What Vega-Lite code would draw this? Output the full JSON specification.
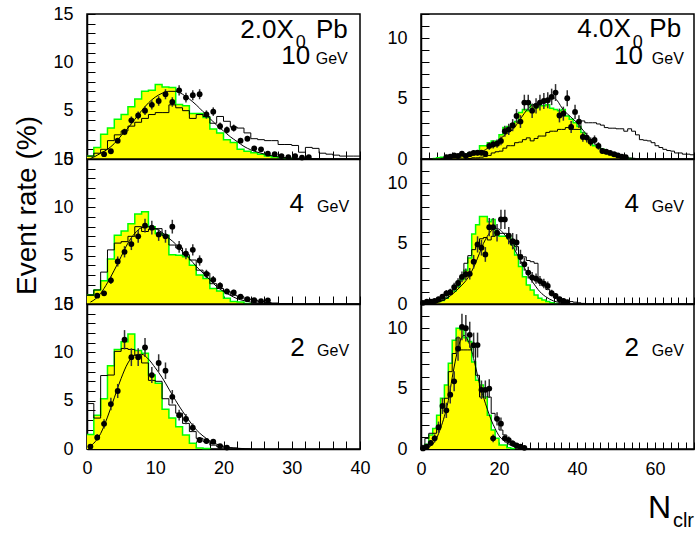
{
"$schema":"https://vega.github.io/schema/vega-lite/v6.json",
"background":"white",
"padding":{"left":12,"top":4,"right":0,"bottom":0},
"columns":2,
"spacing":{"row":0,"column":61},
"bounds":"flush",
"datasets":{
"TLa":[{"x":0,"y":0.3},{"x":1,"y":1.2},{"x":2,"y":2.55},{"x":3,"y":3.2},{"x":4,"y":4.1},{"x":5,"y":4.6},{"x":6,"y":5.4},{"x":7,"y":6.2},{"x":8,"y":7.0},{"x":9,"y":7.1},{"x":10,"y":7.7},{"x":11,"y":7.45},{"x":12,"y":7.4},{"x":13,"y":5.65},{"x":14,"y":5.5},{"x":15,"y":4.7},{"x":16,"y":4.7},{"x":17,"y":4.3},{"x":18,"y":3.1},{"x":19,"y":2.7},{"x":20,"y":2.0},{"x":21,"y":1.7},{"x":22,"y":1.0},{"x":23,"y":0.8},{"x":24,"y":0.65},{"x":25,"y":0.5},{"x":26,"y":0.3},{"x":27,"y":0.2},{"x":28,"y":0.1},{"x":29,"y":0.05},{"x":30,"y":0}],
"TLb":[{"x":0,"y":0.3},{"x":1,"y":0.6},{"x":2,"y":1.0},{"x":3,"y":1.9},{"x":4,"y":2.5},{"x":5,"y":2.9},{"x":6,"y":3.4},{"x":7,"y":3.8},{"x":8,"y":4.2},{"x":9,"y":4.6},{"x":10,"y":4.8},{"x":11,"y":4.8},{"x":12,"y":5.6},{"x":13,"y":5.3},{"x":14,"y":5.0},{"x":15,"y":4.2},{"x":16,"y":4.6},{"x":17,"y":4.4},{"x":18,"y":3.7},{"x":19,"y":4.4},{"x":20,"y":3.9},{"x":21,"y":3.3},{"x":22,"y":3.2},{"x":23,"y":2.7},{"x":24,"y":2.1},{"x":25,"y":2.0},{"x":26,"y":1.9},{"x":27,"y":1.9},{"x":28,"y":1.5},{"x":29,"y":1.5},{"x":30,"y":1.4},{"x":31,"y":0.7},{"x":32,"y":1.2},{"x":33,"y":1.1},{"x":34,"y":0.6},{"x":35,"y":0.5},{"x":36,"y":0.4},{"x":37,"y":0.3},{"x":38,"y":0.3},{"x":39,"y":0.3},{"x":40,"y":0.3}],
"TLf":[{"x":0.5,"y":0.05},{"x":1,"y":0.2},{"x":2,"y":0.6},{"x":3,"y":1.0},{"x":4,"y":1.6},{"x":5,"y":2.4},{"x":6,"y":3.2},{"x":7,"y":4.1},{"x":8,"y":5.0},{"x":9,"y":5.8},{"x":10,"y":6.4},{"x":11,"y":6.8},{"x":12,"y":7.0},{"x":13,"y":7.0},{"x":14,"y":6.7},{"x":15,"y":6.2},{"x":16,"y":5.6},{"x":17,"y":4.9},{"x":18,"y":4.2},{"x":19,"y":3.5},{"x":20,"y":2.9},{"x":21,"y":2.3},{"x":22,"y":1.8},{"x":23,"y":1.3},{"x":24,"y":0.95},{"x":25,"y":0.7},{"x":26,"y":0.5},{"x":27,"y":0.35},{"x":28,"y":0.22},{"x":29,"y":0.15},{"x":30,"y":0.1},{"x":32,"y":0.05},{"x":35,"y":0.02}],
"TLp":[{"x":2.5,"y":0.5,"e":0.14},{"x":3.5,"y":0.8,"e":0.18},{"x":4.5,"y":1.9,"e":0.28},{"x":5.5,"y":2.8,"e":0.33},{"x":6.5,"y":4.0,"e":0.4},{"x":7.5,"y":4.5,"e":0.42},{"x":8.5,"y":5.0,"e":0.45},{"x":9.5,"y":5.6,"e":0.47},{"x":10.5,"y":6.0,"e":0.49},{"x":11.5,"y":6.7,"e":0.52},{"x":12.5,"y":5.9,"e":0.49},{"x":13.5,"y":7.1,"e":0.53},{"x":14.5,"y":6.35,"e":0.5},{"x":15.5,"y":6.6,"e":0.51},{"x":16.5,"y":6.7,"e":0.52},{"x":17.5,"y":4.6,"e":0.43},{"x":18.5,"y":4.9,"e":0.44},{"x":19.5,"y":3.4,"e":0.37},{"x":20.5,"y":3.0,"e":0.35},{"x":21.5,"y":3.2,"e":0.36},{"x":22.5,"y":1.9,"e":0.28},{"x":23.5,"y":2.1,"e":0.29},{"x":24.5,"y":1.1,"e":0.21},{"x":25.5,"y":1.0,"e":0.2},{"x":26.5,"y":0.55,"e":0.15},{"x":27.5,"y":0.5,"e":0.14},{"x":28.5,"y":0.3,"e":0.11},{"x":29.5,"y":0.2,"e":0.09},{"x":30.5,"y":0.3,"e":0.11},{"x":31.5,"y":0.15,"e":0.08},{"x":32.5,"y":0.2,"e":0.09}],
"MLa":[{"x":0,"y":0.9},{"x":1,"y":1.45},{"x":2,"y":2.4},{"x":3,"y":4.65},{"x":4,"y":7.1},{"x":5,"y":7.55},{"x":6,"y":8.3},{"x":7,"y":9.3},{"x":8,"y":9.55},{"x":9,"y":8.0},{"x":10,"y":7.3},{"x":11,"y":7.1},{"x":12,"y":5.1},{"x":13,"y":5.05},{"x":14,"y":4.9},{"x":15,"y":4.0},{"x":16,"y":3.0},{"x":17,"y":2.65},{"x":18,"y":1.6},{"x":19,"y":1.35},{"x":20,"y":0.6},{"x":21,"y":0.25},{"x":22,"y":0.2},{"x":23,"y":0.05},{"x":24,"y":0}],
"MLb":[{"x":0,"y":0.9},{"x":1,"y":1.45},{"x":2,"y":3.3},{"x":3,"y":5.6},{"x":4,"y":6.3},{"x":5,"y":6.45},{"x":6,"y":7.0},{"x":7,"y":8.0},{"x":8,"y":7.5},{"x":9,"y":7.75},{"x":10,"y":7.8},{"x":11,"y":7.1},{"x":12,"y":6.1},{"x":13,"y":5.8},{"x":14,"y":5.1},{"x":15,"y":4.55},{"x":16,"y":3.5},{"x":17,"y":3.2},{"x":18,"y":2.1},{"x":19,"y":1.6},{"x":20,"y":1.3},{"x":21,"y":0.9},{"x":22,"y":0.75},{"x":23,"y":0.5},{"x":24,"y":0.4},{"x":25,"y":0.25},{"x":26,"y":0.15},{"x":27,"y":0.1},{"x":28,"y":0.05},{"x":29,"y":0.05},{"x":30,"y":0}],
"MLf":[{"x":0.5,"y":0.2},{"x":1,"y":0.4},{"x":2,"y":1.1},{"x":3,"y":2.2},{"x":4,"y":3.5},{"x":5,"y":4.9},{"x":6,"y":6.3},{"x":7,"y":7.3},{"x":8,"y":7.9},{"x":9,"y":8.0},{"x":10,"y":7.8},{"x":11,"y":7.4},{"x":12,"y":6.8},{"x":13,"y":6.2},{"x":14,"y":5.4},{"x":15,"y":4.7},{"x":16,"y":3.9},{"x":17,"y":3.2},{"x":18,"y":2.5},{"x":19,"y":1.8},{"x":20,"y":1.3},{"x":21,"y":0.9},{"x":22,"y":0.55},{"x":23,"y":0.35},{"x":24,"y":0.2},{"x":25,"y":0.12},{"x":26,"y":0.07},{"x":28,"y":0.02}],
"MLp":[{"x":1.5,"y":0.86,"e":0.23},{"x":2.5,"y":1.1,"e":0.26},{"x":3.5,"y":2.45,"e":0.39},{"x":4.5,"y":4.4,"e":0.52},{"x":5.5,"y":5.4,"e":0.58},{"x":6.5,"y":6.2,"e":0.62},{"x":7.5,"y":7.0,"e":0.66},{"x":8.5,"y":8.1,"e":0.71},{"x":9.5,"y":7.9,"e":0.7},{"x":10.5,"y":7.2,"e":0.67},{"x":11.5,"y":7.0,"e":0.66},{"x":12.5,"y":8.0,"e":0.71},{"x":13.5,"y":5.9,"e":0.61},{"x":14.5,"y":5.2,"e":0.57},{"x":15.5,"y":5.6,"e":0.59},{"x":16.5,"y":4.5,"e":0.53},{"x":17.5,"y":3.1,"e":0.44},{"x":18.5,"y":2.5,"e":0.4},{"x":19.5,"y":1.9,"e":0.34},{"x":20.5,"y":1.3,"e":0.29},{"x":21.5,"y":1.2,"e":0.27},{"x":22.5,"y":0.76,"e":0.22},{"x":23.5,"y":0.5,"e":0.18},{"x":24.5,"y":0.4,"e":0.16},{"x":25.5,"y":0.3,"e":0.14},{"x":26.5,"y":0.38,"e":0.15}],
"BLa":[{"x":0,"y":1.5},{"x":1,"y":3.5},{"x":2,"y":5.2},{"x":3,"y":8.6},{"x":4,"y":10.3},{"x":5,"y":11.1},{"x":6,"y":11.9},{"x":7,"y":10.2},{"x":8,"y":9.9},{"x":9,"y":7.65},{"x":10,"y":6.8},{"x":11,"y":4.1},{"x":12,"y":3.2},{"x":13,"y":2.3},{"x":14,"y":1.45},{"x":15,"y":0.6},{"x":16,"y":0.1},{"x":17,"y":0.05},{"x":18,"y":0}],
"BLb":[{"x":0,"y":4.7},{"x":1,"y":3.2},{"x":2,"y":7.6},{"x":3,"y":7.65},{"x":4,"y":10.1},{"x":5,"y":10.4},{"x":6,"y":10.3},{"x":7,"y":9.7},{"x":8,"y":8.9},{"x":9,"y":7.1},{"x":10,"y":7.0},{"x":11,"y":5.2},{"x":12,"y":4.55},{"x":13,"y":3.7},{"x":14,"y":2.65},{"x":15,"y":1.8},{"x":16,"y":1.1},{"x":17,"y":0.76},{"x":18,"y":0.4},{"x":19,"y":0.24},{"x":20,"y":0.15},{"x":21,"y":0.1},{"x":22,"y":0.05},{"x":23,"y":0}],
"BLf":[{"x":0.5,"y":0.3},{"x":1,"y":0.6},{"x":2,"y":1.6},{"x":3,"y":3.3},{"x":4,"y":5.3},{"x":5,"y":7.3},{"x":6,"y":8.9},{"x":7,"y":9.7},{"x":8,"y":9.8},{"x":9,"y":9.3},{"x":10,"y":8.4},{"x":11,"y":7.4},{"x":12,"y":6.2},{"x":13,"y":5.0},{"x":14,"y":3.9},{"x":15,"y":2.9},{"x":16,"y":2.0},{"x":17,"y":1.35},{"x":18,"y":0.85},{"x":19,"y":0.5},{"x":20,"y":0.3},{"x":21,"y":0.15},{"x":22,"y":0.08},{"x":24,"y":0.02}],
"BLp":[{"x":0.5,"y":0.25,"e":0.15},{"x":1.5,"y":1.2,"e":0.33},{"x":2.5,"y":2.6,"e":0.48},{"x":3.5,"y":4.65,"e":0.65},{"x":4.5,"y":6.0,"e":0.73},{"x":5.5,"y":11.3,"e":1.0},{"x":6.5,"y":9.5,"e":0.92},{"x":7.5,"y":9.5,"e":0.92},{"x":8.5,"y":10.5,"e":0.97},{"x":9.5,"y":7.65,"e":0.83},{"x":10.5,"y":8.9,"e":0.9},{"x":11.5,"y":8.1,"e":0.85},{"x":12.5,"y":5.4,"e":0.7},{"x":13.5,"y":3.5,"e":0.56},{"x":14.5,"y":3.1,"e":0.53},{"x":15.5,"y":2.2,"e":0.44},{"x":16.5,"y":0.93,"e":0.29},{"x":17.5,"y":0.83,"e":0.27},{"x":18.5,"y":0.76,"e":0.26},{"x":19.5,"y":0.3,"e":0.16},{"x":20.5,"y":0.15,"e":0.12}],
"TRa":[{"x":3,"y":0.05},{"x":4,"y":0.1},{"x":5,"y":0.15},{"x":6,"y":0.15},{"x":7,"y":0.2},{"x":8,"y":0.25},{"x":9,"y":0.3},{"x":10,"y":0.3},{"x":11,"y":0.4},{"x":12,"y":0.5},{"x":13,"y":0.55},{"x":14,"y":0.65},{"x":15,"y":1.1},{"x":16,"y":1.1},{"x":17,"y":1.35},{"x":18,"y":1.5},{"x":19,"y":1.5},{"x":20,"y":2.0},{"x":21,"y":2.6},{"x":22,"y":2.7},{"x":23,"y":2.9},{"x":24,"y":3.1},{"x":25,"y":3.85},{"x":26,"y":4.1},{"x":27,"y":4.0},{"x":28,"y":4.5},{"x":29,"y":4.25},{"x":30,"y":4.4},{"x":31,"y":4.4},{"x":32,"y":4.5},{"x":33,"y":4.2},{"x":34,"y":4.1},{"x":35,"y":4.0},{"x":36,"y":4.1},{"x":37,"y":3.55},{"x":38,"y":3.3},{"x":39,"y":3.0},{"x":40,"y":2.7},{"x":41,"y":2.2},{"x":42,"y":1.8},{"x":43,"y":1.5},{"x":44,"y":1.1},{"x":45,"y":1.0},{"x":46,"y":0.8},{"x":47,"y":0.5},{"x":48,"y":0.4},{"x":49,"y":0.3},{"x":50,"y":0.25},{"x":51,"y":0.15},{"x":52,"y":0.1},{"x":53,"y":0.05},{"x":54,"y":0}],
"TRb":[{"x":12,"y":0.05},{"x":13,"y":0.1},{"x":14,"y":0.1},{"x":15,"y":0.15},{"x":16,"y":0.2},{"x":17,"y":0.3},{"x":18,"y":0.5},{"x":19,"y":0.6},{"x":20,"y":0.65},{"x":21,"y":0.9},{"x":22,"y":1.1},{"x":23,"y":1.1},{"x":24,"y":1.35},{"x":25,"y":1.4},{"x":26,"y":1.6},{"x":27,"y":1.75},{"x":28,"y":1.5},{"x":29,"y":1.7},{"x":30,"y":1.9},{"x":31,"y":1.9},{"x":32,"y":2.2},{"x":33,"y":2.3},{"x":34,"y":2.3},{"x":35,"y":2.45},{"x":36,"y":2.45},{"x":37,"y":2.6},{"x":38,"y":2.45},{"x":39,"y":2.45},{"x":40,"y":2.45},{"x":41,"y":3.15},{"x":42,"y":3.0},{"x":43,"y":3.0},{"x":44,"y":3.0},{"x":45,"y":2.9},{"x":46,"y":2.8},{"x":47,"y":2.6},{"x":48,"y":2.55},{"x":49,"y":2.55},{"x":50,"y":2.5},{"x":51,"y":2.5},{"x":52,"y":2.3},{"x":53,"y":2.5},{"x":54,"y":2.3},{"x":55,"y":2.0},{"x":56,"y":1.6},{"x":57,"y":1.55},{"x":58,"y":1.5},{"x":59,"y":1.35},{"x":60,"y":1.1},{"x":61,"y":0.95},{"x":62,"y":0.8},{"x":63,"y":0.7},{"x":64,"y":0.65},{"x":65,"y":0.5},{"x":66,"y":0.5},{"x":67,"y":0.4},{"x":68,"y":0.4},{"x":69,"y":0.35},{"x":70,"y":0.35}],
"TRf":[{"x":5,"y":0.05},{"x":8,"y":0.1},{"x":10,"y":0.15},{"x":12,"y":0.25},{"x":15,"y":0.5},{"x":18,"y":1.1},{"x":20,"y":1.6},{"x":22,"y":2.1},{"x":24,"y":2.6},{"x":25,"y":3.1},{"x":26,"y":3.55},{"x":27,"y":4.0},{"x":28,"y":4.35},{"x":30,"y":4.65},{"x":32,"y":4.85},{"x":34,"y":5.05},{"x":35,"y":4.8},{"x":36,"y":4.3},{"x":37,"y":3.9},{"x":38,"y":3.6},{"x":39,"y":3.3},{"x":40,"y":3.0},{"x":41,"y":2.6},{"x":42,"y":2.2},{"x":43,"y":1.8},{"x":44,"y":1.45},{"x":45,"y":1.15},{"x":46,"y":0.9},{"x":47,"y":0.7},{"x":48,"y":0.5},{"x":50,"y":0.3},{"x":52,"y":0.15},{"x":55,"y":0.05}],
"TRp":[{"x":6.5,"y":0.15,"e":0.12},{"x":7.5,"y":0.2,"e":0.13},{"x":8.5,"y":0.3,"e":0.16},{"x":9.5,"y":0.25,"e":0.15},{"x":10.5,"y":0.45,"e":0.2},{"x":11.5,"y":0.25,"e":0.15},{"x":12.5,"y":0.4,"e":0.19},{"x":13.5,"y":0.5,"e":0.21},{"x":14.5,"y":0.52,"e":0.22},{"x":15.5,"y":0.52,"e":0.22},{"x":16.5,"y":0.45,"e":0.2},{"x":17.5,"y":1.08,"e":0.31},{"x":18.5,"y":1.2,"e":0.33},{"x":19.5,"y":1.27,"e":0.34},{"x":20.5,"y":1.5,"e":0.37},{"x":21.5,"y":2.3,"e":0.45},{"x":22.5,"y":2.45,"e":0.47},{"x":23.5,"y":2.8,"e":0.5},{"x":24.5,"y":3.56,"e":0.57},{"x":25.5,"y":3.1,"e":0.53},{"x":26.5,"y":4.67,"e":0.65},{"x":27.5,"y":4.67,"e":0.65},{"x":28.5,"y":4.0,"e":0.6},{"x":29.5,"y":4.4,"e":0.63},{"x":30.5,"y":4.67,"e":0.65},{"x":31.5,"y":4.8,"e":0.66},{"x":32.5,"y":4.86,"e":0.66},{"x":33.5,"y":5.14,"e":0.68},{"x":34.5,"y":5.5,"e":0.7},{"x":35.5,"y":3.6,"e":0.57},{"x":36.5,"y":3.75,"e":0.58},{"x":37.5,"y":5.03,"e":0.67},{"x":38.5,"y":2.65,"e":0.49},{"x":39.5,"y":3.9,"e":0.59},{"x":40.5,"y":3.1,"e":0.53},{"x":41.5,"y":1.82,"e":0.4},{"x":42.5,"y":1.77,"e":0.4},{"x":43.5,"y":1.43,"e":0.36},{"x":44.5,"y":1.57,"e":0.38},{"x":45.5,"y":1.08,"e":0.31},{"x":46.5,"y":0.66,"e":0.24},{"x":47.5,"y":0.6,"e":0.23},{"x":48.5,"y":0.5,"e":0.21},{"x":49.5,"y":0.39,"e":0.19},{"x":50.5,"y":0.3,"e":0.16},{"x":51.5,"y":0.2,"e":0.13},{"x":52.5,"y":0.15,"e":0.12}],
"MRa":[{"x":0,"y":0.05},{"x":1,"y":0.05},{"x":2,"y":0.1},{"x":3,"y":0.15},{"x":4,"y":0.2},{"x":5,"y":0.3},{"x":6,"y":0.47},{"x":7,"y":0.9},{"x":8,"y":1.08},{"x":9,"y":1.44},{"x":10,"y":2.0},{"x":11,"y":2.8},{"x":12,"y":3.8},{"x":13,"y":5.8},{"x":14,"y":6.55},{"x":15,"y":7.25},{"x":16,"y":7.25},{"x":17,"y":6.8},{"x":18,"y":7.0},{"x":19,"y":5.7},{"x":20,"y":5.6},{"x":21,"y":5.6},{"x":22,"y":5.6},{"x":23,"y":4.9},{"x":24,"y":4.06},{"x":25,"y":3.1},{"x":26,"y":2.26},{"x":27,"y":1.57},{"x":28,"y":1.16},{"x":29,"y":0.75},{"x":30,"y":0.47},{"x":31,"y":0.33},{"x":32,"y":0.2},{"x":33,"y":0.1},{"x":34,"y":0.05},{"x":35,"y":0}],
"MRb":[{"x":0,"y":0.05},{"x":1,"y":0.05},{"x":2,"y":0.1},{"x":3,"y":0.15},{"x":4,"y":0.2},{"x":5,"y":0.3},{"x":6,"y":0.5},{"x":7,"y":0.8},{"x":8,"y":1.2},{"x":9,"y":1.57},{"x":10,"y":2.26},{"x":11,"y":3.37},{"x":12,"y":4.0},{"x":13,"y":4.5},{"x":14,"y":4.75},{"x":15,"y":5.4},{"x":16,"y":5.5},{"x":17,"y":5.3},{"x":18,"y":5.6},{"x":19,"y":5.7},{"x":20,"y":5.85},{"x":21,"y":5.85},{"x":22,"y":5.4},{"x":23,"y":4.9},{"x":24,"y":4.75},{"x":25,"y":4.06},{"x":26,"y":3.9},{"x":27,"y":3.6},{"x":28,"y":3.5},{"x":29,"y":3.37},{"x":30,"y":1.85},{"x":31,"y":1.5},{"x":32,"y":1.2},{"x":33,"y":0.97},{"x":34,"y":0.7},{"x":35,"y":0.55},{"x":36,"y":0.4},{"x":37,"y":0.3},{"x":38,"y":0.2},{"x":39,"y":0.15},{"x":40,"y":0.1},{"x":41,"y":0.05},{"x":42,"y":0}],
"MRf":[{"x":2,"y":0.02},{"x":4,"y":0.1},{"x":6,"y":0.35},{"x":8,"y":0.8},{"x":10,"y":1.4},{"x":12,"y":2.15},{"x":13,"y":2.7},{"x":14,"y":3.4},{"x":15,"y":4.2},{"x":16,"y":5.0},{"x":17,"y":5.6},{"x":18,"y":6.05},{"x":19,"y":6.25},{"x":20,"y":6.2},{"x":21,"y":5.9},{"x":22,"y":5.5},{"x":23,"y":5.0},{"x":24,"y":4.5},{"x":25,"y":3.9},{"x":26,"y":3.3},{"x":27,"y":2.7},{"x":28,"y":2.1},{"x":29,"y":1.65},{"x":30,"y":1.2},{"x":31,"y":0.85},{"x":32,"y":0.6},{"x":33,"y":0.4},{"x":34,"y":0.25},{"x":36,"y":0.1},{"x":38,"y":0.04}],
"MRp":[{"x":0.5,"y":0.1,"e":0.1},{"x":1.5,"y":0.2,"e":0.13},{"x":2.5,"y":0.2,"e":0.13},{"x":3.5,"y":0.25,"e":0.15},{"x":4.5,"y":0.4,"e":0.19},{"x":5.5,"y":0.6,"e":0.23},{"x":6.5,"y":0.88,"e":0.28},{"x":7.5,"y":0.97,"e":0.3},{"x":8.5,"y":1.4,"e":0.35},{"x":9.5,"y":1.74,"e":0.4},{"x":10.5,"y":2.24,"e":0.45},{"x":11.5,"y":2.46,"e":0.47},{"x":12.5,"y":2.5,"e":0.47},{"x":13.5,"y":3.5,"e":0.56},{"x":14.5,"y":4.93,"e":0.67},{"x":15.5,"y":4.66,"e":0.65},{"x":16.5,"y":4.1,"e":0.61},{"x":17.5,"y":6.36,"e":0.76},{"x":18.5,"y":6.36,"e":0.76},{"x":19.5,"y":5.9,"e":0.73},{"x":20.5,"y":7.0,"e":0.79},{"x":21.5,"y":7.0,"e":0.79},{"x":22.5,"y":5.66,"e":0.71},{"x":23.5,"y":5.2,"e":0.68},{"x":24.5,"y":5.1,"e":0.68},{"x":25.5,"y":3.9,"e":0.59},{"x":26.5,"y":3.3,"e":0.54},{"x":27.5,"y":2.6,"e":0.48},{"x":28.5,"y":2.2,"e":0.44},{"x":29.5,"y":2.1,"e":0.43},{"x":30.5,"y":1.9,"e":0.41},{"x":31.5,"y":1.69,"e":0.39},{"x":32.5,"y":1.5,"e":0.37},{"x":33.5,"y":0.9,"e":0.28},{"x":34.5,"y":0.66,"e":0.24},{"x":35.5,"y":0.4,"e":0.19},{"x":36.5,"y":0.25,"e":0.15},{"x":37.5,"y":0.15,"e":0.12}],
"BRa":[{"x":0,"y":0.1},{"x":1,"y":0.4},{"x":2,"y":1.16},{"x":3,"y":1.7},{"x":4,"y":2.8},{"x":5,"y":4.2},{"x":6,"y":5.3},{"x":7,"y":7.1},{"x":8,"y":9.0},{"x":9,"y":10.0},{"x":10,"y":9.86},{"x":11,"y":9.2},{"x":12,"y":8.9},{"x":13,"y":7.2},{"x":14,"y":5.7},{"x":15,"y":5.3},{"x":16,"y":4.3},{"x":17,"y":2.8},{"x":18,"y":1.57},{"x":19,"y":0.88},{"x":20,"y":0.33},{"x":21,"y":0.33},{"x":22,"y":0.1},{"x":23,"y":0.05},{"x":24,"y":0}],
"BRb":[{"x":0,"y":0.3},{"x":1,"y":0.88},{"x":2,"y":1.3},{"x":3,"y":1.3},{"x":4,"y":1.85},{"x":5,"y":3.5},{"x":6,"y":4.2},{"x":7,"y":6.4},{"x":8,"y":7.9},{"x":9,"y":9.2},{"x":10,"y":8.2},{"x":11,"y":8.2},{"x":12,"y":8.2},{"x":13,"y":8.4},{"x":14,"y":6.1},{"x":15,"y":4.3},{"x":16,"y":5.0},{"x":17,"y":4.3},{"x":18,"y":2.95},{"x":19,"y":2.4},{"x":20,"y":1.57},{"x":21,"y":1.16},{"x":22,"y":0.75},{"x":23,"y":0.47},{"x":24,"y":0.25},{"x":25,"y":0.1},{"x":26,"y":0.05},{"x":27,"y":0}],
"BRf":[{"x":1,"y":0.02},{"x":2,"y":0.15},{"x":3,"y":0.4},{"x":4,"y":0.9},{"x":5,"y":1.7},{"x":6,"y":2.7},{"x":7,"y":4.0},{"x":8,"y":5.9},{"x":9,"y":7.6},{"x":10,"y":8.9},{"x":11,"y":9.4},{"x":12,"y":9.0},{"x":13,"y":8.1},{"x":14,"y":6.8},{"x":15,"y":5.4},{"x":16,"y":4.3},{"x":17,"y":3.3},{"x":18,"y":2.4},{"x":19,"y":1.7},{"x":20,"y":1.1},{"x":21,"y":0.75},{"x":22,"y":0.5},{"x":23,"y":0.3},{"x":24,"y":0.18},{"x":26,"y":0.05},{"x":28,"y":0.01}],
"BRp":[{"x":0.5,"y":0.05,"e":0.08},{"x":1.5,"y":0.2,"e":0.16},{"x":2.5,"y":0.5,"e":0.25},{"x":3.5,"y":0.88,"e":0.33},{"x":4.5,"y":1.8,"e":0.47},{"x":5.5,"y":3.56,"e":0.66},{"x":6.5,"y":3.2,"e":0.63},{"x":7.5,"y":4.5,"e":0.74},{"x":8.5,"y":5.6,"e":0.83},{"x":9.5,"y":8.3,"e":1.0},{"x":10.5,"y":10.1,"e":1.1},{"x":11.5,"y":10.0,"e":1.1},{"x":12.5,"y":9.45,"e":1.08},{"x":13.5,"y":8.6,"e":1.03},{"x":14.5,"y":8.6,"e":1.03},{"x":15.5,"y":4.9,"e":0.77},{"x":16.5,"y":4.9,"e":0.77},{"x":17.5,"y":5.0,"e":0.78},{"x":18.5,"y":0.88,"e":0.33},{"x":19.5,"y":2.5,"e":0.55},{"x":20.5,"y":2.1,"e":0.51},{"x":21.5,"y":0.88,"e":0.33},{"x":22.5,"y":0.74,"e":0.3},{"x":23.5,"y":0.47,"e":0.24},{"x":24.5,"y":0.3,"e":0.19},{"x":25.5,"y":0.2,"e":0.16},{"x":26.5,"y":0.1,"e":0.11}]
},
"concat":[
{"width":273,"height":145,"layer":[
 {"data":{"name":"TLa"},"mark":{"type":"area","interpolate":"step-after","color":"#ffff00"},"encoding":{"x":{"field":"x","type":"quantitative","scale":{"domain":[0,40],"nice":false},"axis":{"title":null,"format":"d","values":[0,2,4,6,8,10,12,14,16,18,20,22,24,26,28,30,32,34,36,38,40],"tickCount":100,"labels":false,"tickSize":-8,"encode":{"ticks":{"update":{"y2":{"signal":"datum.value % 10 === 0 ? -16 : -8"}}}}}},"y":{"field":"y","type":"quantitative","scale":{"domain":[0,15],"nice":false},"axis":{"title":null,"format":"d","values":[0,1,2,3,4,5,6,7,8,9,10,11,12,13,14,15],"tickCount":100,"labelExpr":"datum.value % 5 === 0 ? datum.label : ''","tickSize":-8,"labelPadding":22,"encode":{"ticks":{"update":{"x2":{"signal":"datum.value % 5 === 0 ? 16 : 8"}}}}}}}},
 {"data":{"name":"TLa"},"mark":{"type":"line","interpolate":"step-after","color":"#00ff00","strokeWidth":1.5},"encoding":{"x":{"field":"x","type":"quantitative"},"y":{"field":"y","type":"quantitative"}}},
 {"data":{"name":"TLb"},"mark":{"type":"line","interpolate":"step-after","color":"#000000","strokeWidth":1},"encoding":{"x":{"field":"x","type":"quantitative"},"y":{"field":"y","type":"quantitative"}}},
 {"data":{"name":"TLf"},"mark":{"type":"line","interpolate":"monotone","color":"#000000","strokeWidth":1},"encoding":{"x":{"field":"x","type":"quantitative"},"y":{"field":"y","type":"quantitative"}}},
 {"data":{"name":"TLp"},"mark":{"type":"errorbar","color":"#333333","thickness":1.5},"encoding":{"x":{"field":"x","type":"quantitative"},"y":{"field":"y","type":"quantitative"},"yError":{"field":"e"}}},
 {"data":{"name":"TLp"},"mark":{"type":"circle","color":"#000000","size":34,"opacity":1},"encoding":{"x":{"field":"x","type":"quantitative"},"y":{"field":"y","type":"quantitative"}}},
 {"data":{"values":[{"x":30.3,"y":12.5,"t":"2.0X"},{"x":38.2,"y":12.5,"t":"Pb"},{"x":32.7,"y":9.8,"t":"10"}]},"mark":{"type":"text","fontSize":26,"align":"right","baseline":"alphabetic"},"encoding":{"x":{"field":"x","type":"quantitative"},"y":{"field":"y","type":"quantitative"},"text":{"field":"t","type":"nominal"}}},
 {"data":{"values":[{"x":30.6,"y":11.5,"t":"0"}]},"mark":{"type":"text","fontSize":18,"align":"left","baseline":"alphabetic"},"encoding":{"x":{"field":"x","type":"quantitative"},"y":{"field":"y","type":"quantitative"},"text":{"field":"t","type":"nominal"}}},
 {"data":{"values":[{"x":38.2,"y":9.8,"t":"GeV"}]},"mark":{"type":"text","fontSize":16,"align":"right","baseline":"alphabetic"},"encoding":{"x":{"field":"x","type":"quantitative"},"y":{"field":"y","type":"quantitative"},"text":{"field":"t","type":"nominal"}}}
]},
{"width":273,"height":145,"layer":[
 {"data":{"name":"TRa"},"mark":{"type":"area","interpolate":"step-after","color":"#ffff00"},"encoding":{"x":{"field":"x","type":"quantitative","scale":{"domain":[0,70],"nice":false},"axis":{"title":null,"format":"d","values":[0,2,4,6,8,10,12,14,16,18,20,22,24,26,28,30,32,34,36,38,40,42,44,46,48,50,52,54,56,58,60,62,64,66,68,70],"tickCount":100,"labels":false,"tickSize":-7,"encode":{"ticks":{"update":{"y2":{"signal":"datum.value % 20 === 0 ? -16 : (datum.value % 10 === 0 ? -11 : -7)"}}}}}},"y":{"field":"y","type":"quantitative","scale":{"domain":[0,12],"nice":false},"axis":{"title":null,"format":"d","values":[0,1,2,3,4,5,6,7,8,9,10,11,12],"tickCount":100,"labelExpr":"datum.value % 5 === 0 ? datum.label : ''","tickSize":-8,"labelPadding":22,"encode":{"ticks":{"update":{"x2":{"signal":"datum.value % 5 === 0 ? 16 : 8"}}}}}}}},
 {"data":{"name":"TRa"},"mark":{"type":"line","interpolate":"step-after","color":"#00ff00","strokeWidth":1.5},"encoding":{"x":{"field":"x","type":"quantitative"},"y":{"field":"y","type":"quantitative"}}},
 {"data":{"name":"TRb"},"mark":{"type":"line","interpolate":"step-after","color":"#000000","strokeWidth":1},"encoding":{"x":{"field":"x","type":"quantitative"},"y":{"field":"y","type":"quantitative"}}},
 {"data":{"name":"TRf"},"mark":{"type":"line","interpolate":"monotone","color":"#000000","strokeWidth":1},"encoding":{"x":{"field":"x","type":"quantitative"},"y":{"field":"y","type":"quantitative"}}},
 {"data":{"name":"TRp"},"mark":{"type":"errorbar","color":"#333333","thickness":1.5},"encoding":{"x":{"field":"x","type":"quantitative"},"y":{"field":"y","type":"quantitative"},"yError":{"field":"e"}}},
 {"data":{"name":"TRp"},"mark":{"type":"circle","color":"#000000","size":34,"opacity":1},"encoding":{"x":{"field":"x","type":"quantitative"},"y":{"field":"y","type":"quantitative"}}},
 {"data":{"values":[{"x":53.8,"y":10.1,"t":"4.0X"},{"x":66.7,"y":10.1,"t":"Pb"},{"x":56.9,"y":7.86,"t":"10"}]},"mark":{"type":"text","fontSize":26,"align":"right","baseline":"alphabetic"},"encoding":{"x":{"field":"x","type":"quantitative"},"y":{"field":"y","type":"quantitative"},"text":{"field":"t","type":"nominal"}}},
 {"data":{"values":[{"x":54.3,"y":9.2,"t":"0"}]},"mark":{"type":"text","fontSize":18,"align":"left","baseline":"alphabetic"},"encoding":{"x":{"field":"x","type":"quantitative"},"y":{"field":"y","type":"quantitative"},"text":{"field":"t","type":"nominal"}}},
 {"data":{"values":[{"x":67.4,"y":7.86,"t":"GeV"}]},"mark":{"type":"text","fontSize":16,"align":"right","baseline":"alphabetic"},"encoding":{"x":{"field":"x","type":"quantitative"},"y":{"field":"y","type":"quantitative"},"text":{"field":"t","type":"nominal"}}}
]},
{"width":273,"height":145,"layer":[
 {"data":{"name":"MLa"},"mark":{"type":"area","interpolate":"step-after","color":"#ffff00"},"encoding":{"x":{"field":"x","type":"quantitative","scale":{"domain":[0,40],"nice":false},"axis":{"title":null,"format":"d","values":[0,2,4,6,8,10,12,14,16,18,20,22,24,26,28,30,32,34,36,38,40],"tickCount":100,"labels":false,"tickSize":-8,"encode":{"ticks":{"update":{"y2":{"signal":"datum.value % 10 === 0 ? -16 : -8"}}}}}},"y":{"field":"y","type":"quantitative","title":"Event rate (%)","scale":{"domain":[0,15],"nice":false},"axis":{"title":"Event rate (%)","titleFontSize":28,"titleX":-52,"titleY":46,"titleAngle":270,"titleAlign":"center","titleBaseline":"alphabetic","format":"d","values":[0,1,2,3,4,5,6,7,8,9,10,11,12,13,14,15],"tickCount":100,"labelExpr":"datum.value % 5 === 0 ? datum.label : ''","tickSize":-8,"labelPadding":22,"encode":{"ticks":{"update":{"x2":{"signal":"datum.value % 5 === 0 ? 16 : 8"}}}}}}}},
 {"data":{"name":"MLa"},"mark":{"type":"line","interpolate":"step-after","color":"#00ff00","strokeWidth":1.5},"encoding":{"x":{"field":"x","type":"quantitative"},"y":{"field":"y","type":"quantitative","title":"Event rate (%)"}}},
 {"data":{"name":"MLb"},"mark":{"type":"line","interpolate":"step-after","color":"#000000","strokeWidth":1},"encoding":{"x":{"field":"x","type":"quantitative"},"y":{"field":"y","type":"quantitative","title":"Event rate (%)"}}},
 {"data":{"name":"MLf"},"mark":{"type":"line","interpolate":"monotone","color":"#000000","strokeWidth":1},"encoding":{"x":{"field":"x","type":"quantitative"},"y":{"field":"y","type":"quantitative","title":"Event rate (%)"}}},
 {"data":{"name":"MLp"},"mark":{"type":"errorbar","color":"#333333","thickness":1.5},"encoding":{"x":{"field":"x","type":"quantitative"},"y":{"field":"y","type":"quantitative","title":"Event rate (%)"},"yError":{"field":"e"}}},
 {"data":{"name":"MLp"},"mark":{"type":"circle","color":"#000000","size":34,"opacity":1},"encoding":{"x":{"field":"x","type":"quantitative"},"y":{"field":"y","type":"quantitative","title":"Event rate (%)"}}},
 {"data":{"values":[{"x":31.8,"y":9.5,"t":"4"}]},"mark":{"type":"text","fontSize":26,"align":"right","baseline":"alphabetic"},"encoding":{"x":{"field":"x","type":"quantitative"},"y":{"field":"y","type":"quantitative","title":"Event rate (%)"},"text":{"field":"t","type":"nominal"}}},
 {"data":{"values":[{"x":38.4,"y":9.5,"t":"GeV"}]},"mark":{"type":"text","fontSize":16,"align":"right","baseline":"alphabetic"},"encoding":{"x":{"field":"x","type":"quantitative"},"y":{"field":"y","type":"quantitative","title":"Event rate (%)"},"text":{"field":"t","type":"nominal"}}}
]},
{"width":273,"height":145,"layer":[
 {"data":{"name":"MRa"},"mark":{"type":"area","interpolate":"step-after","color":"#ffff00"},"encoding":{"x":{"field":"x","type":"quantitative","scale":{"domain":[0,70],"nice":false},"axis":{"title":null,"format":"d","values":[0,2,4,6,8,10,12,14,16,18,20,22,24,26,28,30,32,34,36,38,40,42,44,46,48,50,52,54,56,58,60,62,64,66,68,70],"tickCount":100,"labels":false,"tickSize":-7,"encode":{"ticks":{"update":{"y2":{"signal":"datum.value % 20 === 0 ? -16 : (datum.value % 10 === 0 ? -11 : -7)"}}}}}},"y":{"field":"y","type":"quantitative","scale":{"domain":[0,12],"nice":false},"axis":{"title":null,"format":"d","values":[0,1,2,3,4,5,6,7,8,9,10,11,12],"tickCount":100,"labelExpr":"datum.value % 5 === 0 ? datum.label : ''","tickSize":-8,"labelPadding":22,"encode":{"ticks":{"update":{"x2":{"signal":"datum.value % 5 === 0 ? 16 : 8"}}}}}}}},
 {"data":{"name":"MRa"},"mark":{"type":"line","interpolate":"step-after","color":"#00ff00","strokeWidth":1.5},"encoding":{"x":{"field":"x","type":"quantitative"},"y":{"field":"y","type":"quantitative"}}},
 {"data":{"name":"MRb"},"mark":{"type":"line","interpolate":"step-after","color":"#000000","strokeWidth":1},"encoding":{"x":{"field":"x","type":"quantitative"},"y":{"field":"y","type":"quantitative"}}},
 {"data":{"name":"MRf"},"mark":{"type":"line","interpolate":"monotone","color":"#000000","strokeWidth":1},"encoding":{"x":{"field":"x","type":"quantitative"},"y":{"field":"y","type":"quantitative"}}},
 {"data":{"name":"MRp"},"mark":{"type":"errorbar","color":"#333333","thickness":1.5},"encoding":{"x":{"field":"x","type":"quantitative"},"y":{"field":"y","type":"quantitative"},"yError":{"field":"e"}}},
 {"data":{"name":"MRp"},"mark":{"type":"circle","color":"#000000","size":34,"opacity":1},"encoding":{"x":{"field":"x","type":"quantitative"},"y":{"field":"y","type":"quantitative"}}},
 {"data":{"values":[{"x":55.9,"y":7.6,"t":"4"}]},"mark":{"type":"text","fontSize":26,"align":"right","baseline":"alphabetic"},"encoding":{"x":{"field":"x","type":"quantitative"},"y":{"field":"y","type":"quantitative"},"text":{"field":"t","type":"nominal"}}},
 {"data":{"values":[{"x":67.4,"y":7.6,"t":"GeV"}]},"mark":{"type":"text","fontSize":16,"align":"right","baseline":"alphabetic"},"encoding":{"x":{"field":"x","type":"quantitative"},"y":{"field":"y","type":"quantitative"},"text":{"field":"t","type":"nominal"}}}
]},
{"width":273,"height":145,"layer":[
 {"data":{"name":"BLa"},"mark":{"type":"area","interpolate":"step-after","color":"#ffff00"},"encoding":{"x":{"field":"x","type":"quantitative","scale":{"domain":[0,40],"nice":false},"axis":{"title":null,"format":"d","values":[0,2,4,6,8,10,12,14,16,18,20,22,24,26,28,30,32,34,36,38,40],"tickCount":100,"labelExpr":"datum.value % 10 === 0 ? datum.label : ''","labelPadding":18,"tickSize":-8,"encode":{"ticks":{"update":{"y2":{"signal":"datum.value % 10 === 0 ? -16 : -8"}}}}}},"y":{"field":"y","type":"quantitative","scale":{"domain":[0,15],"nice":false},"axis":{"title":null,"format":"d","values":[0,1,2,3,4,5,6,7,8,9,10,11,12,13,14,15],"tickCount":100,"labelExpr":"datum.value % 5 === 0 ? datum.label : ''","tickSize":-8,"labelPadding":22,"encode":{"ticks":{"update":{"x2":{"signal":"datum.value % 5 === 0 ? 16 : 8"}}}}}}}},
 {"data":{"name":"BLa"},"mark":{"type":"line","interpolate":"step-after","color":"#00ff00","strokeWidth":1.5},"encoding":{"x":{"field":"x","type":"quantitative"},"y":{"field":"y","type":"quantitative"}}},
 {"data":{"name":"BLb"},"mark":{"type":"line","interpolate":"step-after","color":"#000000","strokeWidth":1},"encoding":{"x":{"field":"x","type":"quantitative"},"y":{"field":"y","type":"quantitative"}}},
 {"data":{"name":"BLf"},"mark":{"type":"line","interpolate":"monotone","color":"#000000","strokeWidth":1},"encoding":{"x":{"field":"x","type":"quantitative"},"y":{"field":"y","type":"quantitative"}}},
 {"data":{"name":"BLp"},"mark":{"type":"errorbar","color":"#333333","thickness":1.5},"encoding":{"x":{"field":"x","type":"quantitative"},"y":{"field":"y","type":"quantitative"},"yError":{"field":"e"}}},
 {"data":{"name":"BLp"},"mark":{"type":"circle","color":"#000000","size":34,"opacity":1},"encoding":{"x":{"field":"x","type":"quantitative"},"y":{"field":"y","type":"quantitative"}}},
 {"data":{"values":[{"x":31.9,"y":9.6,"t":"2"}]},"mark":{"type":"text","fontSize":26,"align":"right","baseline":"alphabetic"},"encoding":{"x":{"field":"x","type":"quantitative"},"y":{"field":"y","type":"quantitative"},"text":{"field":"t","type":"nominal"}}},
 {"data":{"values":[{"x":38.4,"y":9.6,"t":"GeV"}]},"mark":{"type":"text","fontSize":16,"align":"right","baseline":"alphabetic"},"encoding":{"x":{"field":"x","type":"quantitative"},"y":{"field":"y","type":"quantitative"},"text":{"field":"t","type":"nominal"}}}
]},
{"width":273,"height":145,"layer":[
 {"data":{"name":"BRa"},"mark":{"type":"area","interpolate":"step-after","color":"#ffff00"},"encoding":{"x":{"field":"x","type":"quantitative","scale":{"domain":[0,70],"nice":false},"axis":{"title":null,"format":"d","values":[0,2,4,6,8,10,12,14,16,18,20,22,24,26,28,30,32,34,36,38,40,42,44,46,48,50,52,54,56,58,60,62,64,66,68,70],"tickCount":100,"labelExpr":"datum.value % 20 === 0 ? datum.label : ''","labelPadding":18,"tickSize":-7,"encode":{"ticks":{"update":{"y2":{"signal":"datum.value % 20 === 0 ? -16 : (datum.value % 10 === 0 ? -11 : -7)"}}}}}},"y":{"field":"y","type":"quantitative","scale":{"domain":[0,12],"nice":false},"axis":{"title":null,"format":"d","values":[0,1,2,3,4,5,6,7,8,9,10,11,12],"tickCount":100,"labelExpr":"datum.value % 5 === 0 ? datum.label : ''","tickSize":-8,"labelPadding":22,"encode":{"ticks":{"update":{"x2":{"signal":"datum.value % 5 === 0 ? 16 : 8"}}}}}}}},
 {"data":{"name":"BRa"},"mark":{"type":"line","interpolate":"step-after","color":"#00ff00","strokeWidth":1.5},"encoding":{"x":{"field":"x","type":"quantitative"},"y":{"field":"y","type":"quantitative"}}},
 {"data":{"name":"BRb"},"mark":{"type":"line","interpolate":"step-after","color":"#000000","strokeWidth":1},"encoding":{"x":{"field":"x","type":"quantitative"},"y":{"field":"y","type":"quantitative"}}},
 {"data":{"name":"BRf"},"mark":{"type":"line","interpolate":"monotone","color":"#000000","strokeWidth":1},"encoding":{"x":{"field":"x","type":"quantitative"},"y":{"field":"y","type":"quantitative"}}},
 {"data":{"name":"BRp"},"mark":{"type":"errorbar","color":"#333333","thickness":1.5},"encoding":{"x":{"field":"x","type":"quantitative"},"y":{"field":"y","type":"quantitative"},"yError":{"field":"e"}}},
 {"data":{"name":"BRp"},"mark":{"type":"circle","color":"#000000","size":34,"opacity":1},"encoding":{"x":{"field":"x","type":"quantitative"},"y":{"field":"y","type":"quantitative"}}},
 {"data":{"values":[{"x":55.9,"y":7.7,"t":"2"}]},"mark":{"type":"text","fontSize":26,"align":"right","baseline":"alphabetic"},"encoding":{"x":{"field":"x","type":"quantitative"},"y":{"field":"y","type":"quantitative"},"text":{"field":"t","type":"nominal"}}},
 {"data":{"values":[{"x":67.4,"y":7.7,"t":"GeV"}]},"mark":{"type":"text","fontSize":16,"align":"right","baseline":"alphabetic"},"encoding":{"x":{"field":"x","type":"quantitative"},"y":{"field":"y","type":"quantitative"},"text":{"field":"t","type":"nominal"}}},
 {"data":{"values":[{"x":58.2,"y":-5.7,"t":"N"}]},"mark":{"type":"text","fontSize":32,"align":"left","baseline":"alphabetic"},"encoding":{"x":{"field":"x","type":"quantitative"},"y":{"field":"y","type":"quantitative"},"text":{"field":"t","type":"nominal"}}},
 {"data":{"values":[{"x":70,"y":-6.46,"t":"clr"}]},"mark":{"type":"text","fontSize":20,"align":"right","baseline":"alphabetic"},"encoding":{"x":{"field":"x","type":"quantitative"},"y":{"field":"y","type":"quantitative"},"text":{"field":"t","type":"nominal"}}}
]}
],
"config":{
 "view":{"stroke":"#000000","strokeWidth":1.5},
 "axis":{"zindex":1,"domainColor":"#000000","domainWidth":1.5,"tickColor":"#000000","tickWidth":1,"labelFont":"Liberation Sans","labelFontSize":18,"labelColor":"#000000","grid":false,"labelOverlap":false,"labelFlush":false,"titleFont":"Liberation Sans","titleColor":"#000000","titleFontWeight":"normal"},
 "text":{"font":"Liberation Sans","color":"#000000"}
}
}
